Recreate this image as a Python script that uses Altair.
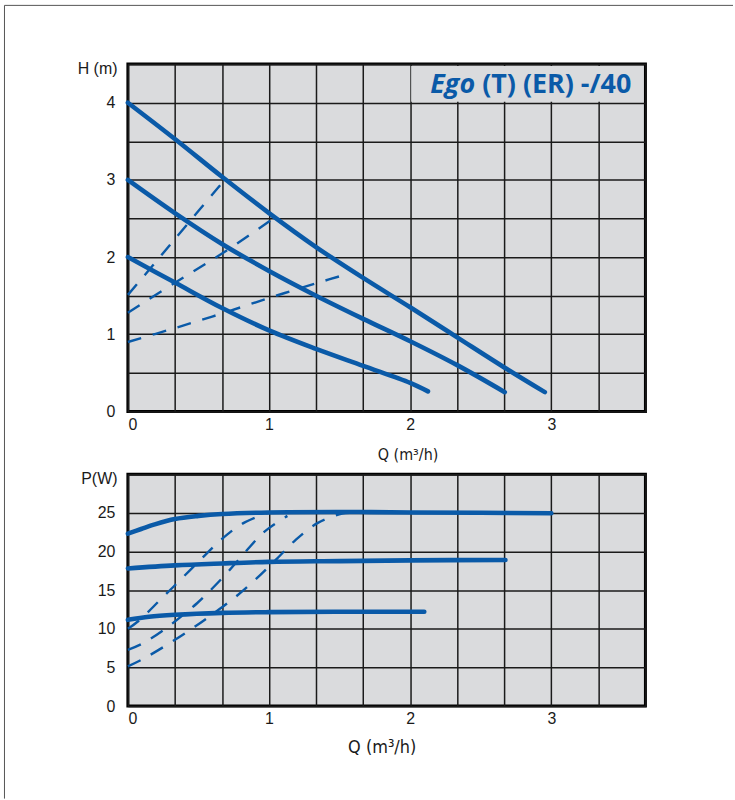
import altair as alt
import pandas as pd

# ---------------- data ----------------
# Head curves H(Q)  (Q in m3/h, H in m)
H_MAX_Q = [0, 0.333, 0.667, 1.0, 1.333, 1.667, 2.0, 2.333, 2.667, 2.954]
H_MAX_H = [4.0, 3.53, 3.04, 2.57, 2.13, 1.73, 1.35, 0.96, 0.57, 0.25]
H_MID_Q = [0, 0.333, 0.667, 1.0, 1.333, 1.667, 2.0, 2.333, 2.67]
H_MID_H = [3.0, 2.57, 2.17, 1.82, 1.50, 1.20, 0.91, 0.60, 0.25]
H_MIN_Q = [0, 0.333, 0.667, 1.0, 1.333, 1.667, 2.0, 2.126]
H_MIN_H = [2.0, 1.67, 1.34, 1.05, 0.81, 0.59, 0.37, 0.26]

# dashed (system / proportional) curves in the H chart
HD1_Q = [0, 0.176, 0.336, 0.694]
HD1_H = [1.51, 1.89, 2.24, 3.02]
HD2_Q = [0, 0.336, 0.67, 1.047]
HD2_H = [1.28, 1.67, 2.05, 2.52]
HD3_Q = [0, 0.333, 0.667, 1.0, 1.333, 1.574]
HD3_H = [0.90, 1.08, 1.27, 1.47, 1.66, 1.79]

# Power curves P(Q)  (W)
P_MAX_Q = [0, 0.094, 0.19, 0.333, 0.5, 0.667, 1.0, 1.5, 2.0, 2.5, 3.0]
P_MAX_P = [22.3, 22.9, 23.5, 24.2, 24.6, 24.85, 25.05, 25.1, 25.05, 25.0, 24.95]
P_MID_Q = [0, 0.333, 0.667, 1.0, 1.5, 2.0, 2.675]
P_MID_P = [17.8, 18.2, 18.45, 18.65, 18.75, 18.85, 18.9]
P_MIN_Q = [0, 0.15, 0.333, 0.667, 1.0, 1.5, 2.1]
P_MIN_P = [11.15, 11.55, 11.8, 12.05, 12.15, 12.2, 12.2]

# dashed curves in the P chart
PD1_Q = [0, 0.075, 0.235, 0.376, 0.518, 0.659, 0.812, 0.99]
PD1_P = [10.0, 11.0, 13.85, 16.4, 19.0, 21.5, 23.6, 25.0]
PD2_Q = [0, 0.099, 0.27, 0.49, 0.57, 0.706, 0.835, 0.97, 1.13]
PD2_P = [7.28, 8.05, 10.07, 13.3, 14.7, 17.3, 20.0, 22.6, 24.6]
PD3_Q = [0, 0.106, 0.27, 0.442, 0.593, 0.765, 0.906, 1.047, 1.189, 1.346, 1.518, 1.577]
PD3_P = [5.13, 6.08, 7.84, 9.86, 11.8, 14.15, 16.4, 18.9, 21.5, 23.7, 24.9, 25.0]

# axis ticks / grid
X_GRID = [i / 3 for i in range(12)]
H_GRID = [i * 0.5 for i in range(10)]
P_GRID = [0, 5, 10, 15, 20, 25, 30]

TITLE_A = "Ego"
TITLE_B = "(T) (ER) -/40"
X_TITLE = "Q (m³/h)"

# ---------------- styling ----------------
BLUE = "#0a5aa8"
BG = "#dadbdd"
GRID = "#1a1a1a"
LABEL_FONT = "Liberation Sans"
NARROW_FONT = "Liberation Sans Narrow, DejaVu Sans Condensed, Liberation Sans"
CURVE = "catmull-rom"


def long_df(series):
    rows = []
    for name, qs, vs in series:
        for i, (q, v) in enumerate(zip(qs, vs)):
            rows.append({"s": name, "q": q, "v": v, "o": i})
    return pd.DataFrame(rows)


xscale = alt.Scale(domain=[0, 11 / 3], nice=False, zero=False)


def xaxis(title_y, size, title_x):
    return alt.Axis(
        values=X_GRID,
        labelExpr="abs(datum.value - round(datum.value)) < 0.001 ? format(round(datum.value), 'd') : ''",
        title=X_TITLE,
        titleX=title_x,
        titleY=title_y,
        titleBaseline="alphabetic",
        titleFont=NARROW_FONT,
        titleFontSize=size,
        titleFontWeight="normal",
        labelPadding=5,
    )


def yaxis(title, values, expr):
    return alt.Axis(
        values=values,
        labelExpr=expr,
        title=title,
        titleAngle=0,
        titleAlign="right",
        titleBaseline="alphabetic",
        titleX=-11,
        titleY=9,
        titleFont=LABEL_FONT,
        titleFontSize=16,
        titleFontWeight="normal",
        labelPadding=13,
    )


# ---------------- top chart (H) ----------------
hscale = alt.Scale(domain=[0, 4.5], nice=False, zero=False)
hx = lambda: alt.X("q:Q", scale=xscale, axis=xaxis(48, 16, 281))
hy = lambda: alt.Y("v:Q", scale=hscale,
                   axis=yaxis("H (m)", H_GRID, "datum.value % 1 == 0 ? format(datum.value, 'd') : ''"))

h_solid = long_df([("max", H_MAX_Q, H_MAX_H), ("mid", H_MID_Q, H_MID_H), ("min", H_MIN_Q, H_MIN_H)])
h_dash = long_df([("d1", HD1_Q, HD1_H), ("d2", HD2_Q, HD2_H), ("d3", HD3_Q, HD3_H)])

box = alt.Chart(pd.DataFrame({"q": [2.0], "q2": [11 / 3], "v": [4.0], "v2": [4.5]})).mark_rect(
    color=BG, xOffset=1, x2Offset=-2, yOffset=-1, y2Offset=2
).encode(x=hx(), x2="q2:Q", y=hy(), y2="v2:Q")

h_dash_l = alt.Chart(h_dash).mark_line(
    color=BLUE, strokeWidth=2.4, strokeDash=[14, 12], interpolate=CURVE
).encode(x=hx(), y=hy(), detail="s:N", order="o:Q")

h_solid_l = alt.Chart(h_solid).mark_line(
    color=BLUE, strokeWidth=4.6, strokeCap="round", interpolate=CURVE
).encode(x=hx(), y=hy(), detail="s:N", order="o:Q")

title_a = alt.Chart(pd.DataFrame({"q": [2.46], "v": [4.128], "t": [TITLE_A]})).mark_text(
    align="right", baseline="alphabetic", font="Open Sans", fontWeight="bold",
    fontStyle="italic", fontSize=27, color=BLUE
).encode(x=hx(), y=hy(), text="t:N")

title_b = alt.Chart(pd.DataFrame({"q": [2.51], "v": [4.128], "t": [TITLE_B]})).mark_text(
    align="left", baseline="alphabetic", font="Open Sans", fontWeight="bold",
    fontSize=27, color=BLUE
).encode(x=hx(), y=hy(), text="t:N")

one = pd.DataFrame({"k": [0]})
frame_v = alt.Chart(one).mark_rule(color="#555", strokeWidth=1).encode(
    x=alt.value(-124), y=alt.value(-59), y2=alt.value(738))
frame_h = alt.Chart(one).mark_rule(color="#555", strokeWidth=1).encode(
    x=alt.value(-124), x2=alt.value(608), y=alt.value(-59))

top = alt.layer(box, h_dash_l, h_solid_l, title_a, title_b, frame_v, frame_h).properties(
    width=520, height=349)

# ---------------- bottom chart (P) ----------------
pscale = alt.Scale(domain=[0, 30], nice=False, zero=False)
px = lambda: alt.X("q:Q", scale=xscale, axis=xaxis(47, 18, 255))
py = lambda: alt.Y("v:Q", scale=pscale,
                   axis=yaxis("P(W)", P_GRID, "datum.value < 30 ? format(datum.value, 'd') : ''"))

p_solid = long_df([("max", P_MAX_Q, P_MAX_P), ("mid", P_MID_Q, P_MID_P), ("min", P_MIN_Q, P_MIN_P)])
p_dash = long_df([("d1", PD1_Q, PD1_P), ("d2", PD2_Q, PD2_P), ("d3", PD3_Q, PD3_P)])

p_dash_l = alt.Chart(p_dash).mark_line(
    color=BLUE, strokeWidth=2.4, strokeDash=[14, 12], interpolate=CURVE
).encode(x=px(), y=py(), detail="s:N", order="o:Q")

p_solid_l = alt.Chart(p_solid).mark_line(
    color=BLUE, strokeWidth=4.6, strokeCap="round", interpolate=CURVE
).encode(x=px(), y=py(), detail="s:N", order="o:Q")

bottom = alt.layer(p_dash_l, p_solid_l).properties(width=520, height=233)

chart = alt.vconcat(top, bottom, spacing=63, bounds="flush").properties(
    padding={"left": 2.5, "top": 1.5, "right": 0, "bottom": 0},
    background="white",
).configure_view(
    stroke="black", strokeWidth=3, fill=BG
).configure_axis(
    domain=False, ticks=False, grid=True, gridColor=GRID, gridWidth=1.5, gridOpacity=1,
    labelFont=LABEL_FONT, labelFontSize=16, labelColor="#1a1a1a", titleColor="#1a1a1a",
)

chart.save("out.html", embed_options={"renderer": "svg", "actions": False})
